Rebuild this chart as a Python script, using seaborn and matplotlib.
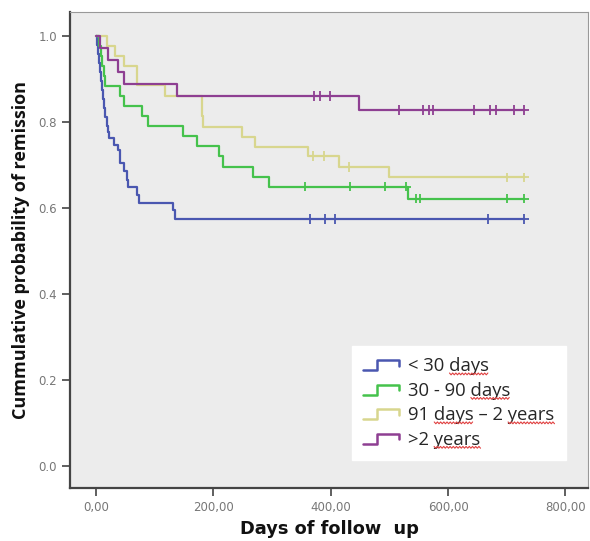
import numpy as np
import pandas as pd
import matplotlib
matplotlib.use("Agg")
import matplotlib.pyplot as plt
import seaborn as sns
from matplotlib.lines import Line2D
from matplotlib.legend_handler import HandlerBase
from matplotlib.transforms import IdentityTransform

# ------------------ data ------------------
groups = ["< 30 days", "30 - 90 days", "91 days \u2013 2 years", ">2 years"]
colors = ["#4a57b0", "#45c24c", "#d8d68e", "#8e3f92"]
follow_up_end = 730

# event times (days) and survival after each step
blue_t = [0, 2, 3, 5, 7, 9, 10, 12, 14, 16, 18, 20, 22, 30, 37, 41, 47, 52, 55, 69, 73, 132, 135]
blue_s = [1.0, 0.979, 0.958, 0.937, 0.916, 0.895, 0.874, 0.853, 0.832, 0.811, 0.790, 0.776,
          0.762, 0.747, 0.735, 0.704, 0.685, 0.665, 0.650, 0.630, 0.611, 0.595, 0.574]
green_t = [0, 5, 8, 10, 13, 16, 41, 47, 78, 89, 149, 172, 209, 217, 268, 294, 531]
green_s = [1.0, 0.977, 0.953, 0.930, 0.907, 0.884, 0.860, 0.837, 0.813, 0.790, 0.767, 0.744,
           0.720, 0.696, 0.673, 0.650, 0.622]
yellow_t = [0, 18, 32, 47, 69, 70, 118, 180, 183, 249, 271, 361, 415, 500]
yellow_s = [1.0, 0.977, 0.953, 0.930, 0.907, 0.886, 0.860, 0.813, 0.789, 0.766, 0.743, 0.720,
            0.695, 0.671]
purple_t = [0, 7, 21, 38, 47, 138, 448]
purple_s = [1.0, 0.972, 0.944, 0.917, 0.889, 0.861, 0.828]

# censored observations (days)
blue_c = [365, 391, 408, 669, 729]
green_c = [357, 433, 493, 528, 546, 553, 700, 729]
yellow_c = [370, 388, 432, 700, 729]
purple_c = [371, 382, 399, 516, 558, 567, 575, 644, 671, 681, 712, 729]

times = [blue_t, green_t, yellow_t, purple_t]
survs = [blue_s, green_s, yellow_s, purple_s]
cens = [blue_c, green_c, yellow_c, purple_c]

# long form tables
curve_rows, cens_rows = [], []
for g, t, s, c in zip(groups, times, survs, cens):
    for ti, si in zip(t + [follow_up_end], s + [s[-1]]):
        curve_rows.append((g, ti, si))
    for ci in c:
        idx = np.searchsorted(t, ci, side="right") - 1
        cens_rows.append((g, ci, s[idx]))
curves = pd.DataFrame(curve_rows, columns=["group", "day", "surv"])
censored = pd.DataFrame(cens_rows, columns=["group", "day", "surv"])
palette = dict(zip(groups, colors))

# ------------------ plot ------------------
sns.set_style("white")
plt.rcParams["font.family"] = ["DejaVu Sans"]

fig = plt.figure(figsize=(5.9, 5.41), dpi=100)
ax = fig.add_axes([0.119, 0.098, 0.878, 0.880])
ax.set_facecolor("#ececec")

sns.lineplot(data=curves, x="day", y="surv", hue="group", palette=palette,
             drawstyle="steps-post", estimator=None, sort=False, lw=1.6,
             legend=False, ax=ax)
sns.scatterplot(data=censored, x="day", y="surv", hue="group", palette=palette,
                marker="+", s=50, linewidth=1.3, legend=False, ax=ax)

ax.set_xlim(-44, 839)
ax.set_ylim(-0.051, 1.056)
xt = [0, 200, 400, 600, 800]
ax.set_xticks(xt, [f"{v:.2f}".replace(".", ",") for v in xt])
yt = [0.0, 0.2, 0.4, 0.6, 0.8, 1.0]
ax.set_yticks(yt, [f"{v:.1f}" for v in yt])
ax.tick_params(direction="out", length=6, width=1.2, color="#444",
               labelcolor="#777", labelsize=8.5, left=True, bottom=True)

for side in ["left", "bottom"]:
    ax.spines[side].set_color("#444")
    ax.spines[side].set_linewidth(1.6)
for side in ["top", "right"]:
    ax.spines[side].set_color("#999")
    ax.spines[side].set_linewidth(0.8)

ax.set_xlabel("Days of follow  up", fontsize=12.8, fontweight="bold",
              color="#111", labelpad=4)
ax.set_ylabel("Cummulative probability of remission", fontsize=13,
              fontweight="bold", family="Open Sans", color="#111", labelpad=6)


# step shaped legend handles
class StepHandler(HandlerBase):
    def create_artists(self, legend, orig_handle, xdescent, ydescent,
                       width, height, fontsize, trans):
        xs = np.array([0.0, 0.38, 0.38, 1.0, 1.0]) * width - xdescent
        ys = np.array([0.1, 0.1, 0.85, 0.85, 0.45]) * height - ydescent
        line = Line2D(xs, ys, color=orig_handle.get_color(), lw=1.8)
        line.set_transform(trans)
        return [line]


handles = [Line2D([], [], color=c) for c in colors]
leg = ax.legend(handles, groups, loc="lower left", bbox_to_anchor=(0.544, 0.059),
                handler_map={Line2D: StepHandler()}, frameon=True, fancybox=False,
                framealpha=1, prop={"family": "Open Sans", "size": 13.3},
                handlelength=1.95, handletextpad=0.5, labelspacing=0.35,
                borderpad=0.6, borderaxespad=0)
leg.get_frame().set_facecolor("white")
leg.get_frame().set_edgecolor("white")

# red spell-check squiggles under some words
fig.canvas.draw()
renderer = fig.canvas.get_renderer()
squiggle_words = [["days"], ["days"], ["days", "years"], ["years"]]
for txt, words in zip(leg.get_texts(), squiggle_words):
    s = txt.get_text()
    fp = txt.get_fontproperties()
    bb = txt.get_window_extent(renderer)
    for w in words:
        i = s.index(w)
        w_full = renderer.get_text_width_height_descent(s[:i] + w, fp, ismath=False)[0]
        w_word = renderer.get_text_width_height_descent(w, fp, ismath=False)[0]
        x0 = bb.x0 + w_full - w_word
        x1 = bb.x0 + w_full
        xs = np.arange(x0, x1, 1.6)
        ys = bb.y0 + 1.5 + np.where(np.arange(len(xs)) % 2 == 0, 0.9, -0.9)
        fig.add_artist(Line2D(xs, ys, color="#e04040", lw=0.8,
                              transform=IdentityTransform()))

fig.savefig("out.png", dpi=100)
